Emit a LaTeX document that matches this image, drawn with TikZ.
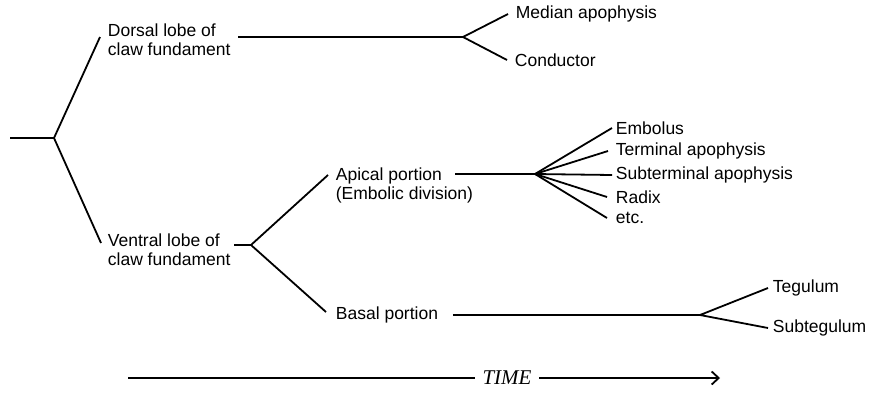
\documentclass[tikz,border=0pt]{standalone}
\usepackage{fontspec}
\setmainfont{Liberation Sans}
\newfontfamily\timefont{Liberation Serif}
\usetikzlibrary{arrows.meta}
\begin{document}
\begin{tikzpicture}[x=1pt,y=-1pt,line width=1.8pt,
  lbl/.style={inner sep=0pt,align=left,font=\fontsize{17.5}{19}\selectfont},
  timelbl/.style={inner sep=0pt,font=\timefont\itshape\fontsize{21}{21}\selectfont}]
 \useasboundingbox (0,0) rectangle (869,410);
 \coordinate (o) at (10,138); \coordinate (r) at (54,138);
 \coordinate (d) at (463,37); \coordinate (v) at (251,245);
 \coordinate (f) at (535,174); \coordinate (s) at (700,315);
 \node[lbl,anchor=north west] (dor) at (107,23) {Dorsal lobe of\\claw fundament};
 \node[lbl,anchor=north west] (ven) at (107,233) {Ventral lobe of\\claw fundament};
 \node[lbl,anchor=north west] (api) at (335,167) {Apical portion\\(Embolic division)};
 \node[lbl,anchor=west] (bas) at (335,315) {Basal portion};
 \node[lbl,anchor=west] (med) at (515,14) {Median apophysis};
 \node[lbl,anchor=west] (con) at (514,60) {Conductor};
 \node[lbl,anchor=west] (emb) at (615,128) {Embolus};
 \node[lbl,anchor=west] (ter) at (615,151) {Terminal apophysis};
 \node[lbl,anchor=west] (sub) at (615,175) {Subterminal apophysis};
 \node[lbl,anchor=west] (rad) at (615,197) {Radix};
 \node[lbl,anchor=west] (etc) at (615,218) {etc.};
 \node[lbl,anchor=west] (teg) at (772,288) {Tegulum};
 \node[lbl,anchor=west] (stg) at (772,328) {Subtegulum};
 % tree
 \draw (o) -- (r) -- ([shift={(-7pt,-14pt)}]dor.north west);
 \draw (r) -- ([shift={(-6pt,-10pt)}]ven.north west);
 \draw ([shift={(7pt,-14pt)}]dor.north east) -- (d);
 \draw ([xshift=-7pt]med.west) -- (d) -- ([xshift=-7pt]con.west);
 \draw ([shift={(3pt,-12pt)}]ven.north east) -- (v);
 \draw ([shift={(-7pt,-8pt)}]api.north west) -- (v) -- ([shift={(-9pt,3pt)}]bas.west);
 \draw ([shift={(120pt,-7pt)}]api.north west) -- (f);
 \draw (f) -- ([xshift=-3pt]emb.west);
 \draw (f) -- ([xshift=-7pt]ter.west);
 \draw (f) -- ([xshift=-3pt]sub.west);
 \draw (f) -- ([xshift=-8pt]rad.west);
 \draw (f) -- ([xshift=-8pt]etc.west);
 \draw ([xshift=14pt]bas.east) -- (s);
 \draw ([xshift=-4pt]teg.west) -- (s) -- ([xshift=-4pt]stg.west);
 % time axis
 \node[timelbl] (tm) at (507,378) {TIME};
 \coordinate (t0) at (128,378); \coordinate (t1) at (720,378);
 \draw (t0) -- ([xshift=-7pt]tm.west);
 \draw[-{Straight Barb[length=7pt,width=13pt]}] ([xshift=7pt]tm.east) -- (t1);
\end{tikzpicture}
\end{document}
